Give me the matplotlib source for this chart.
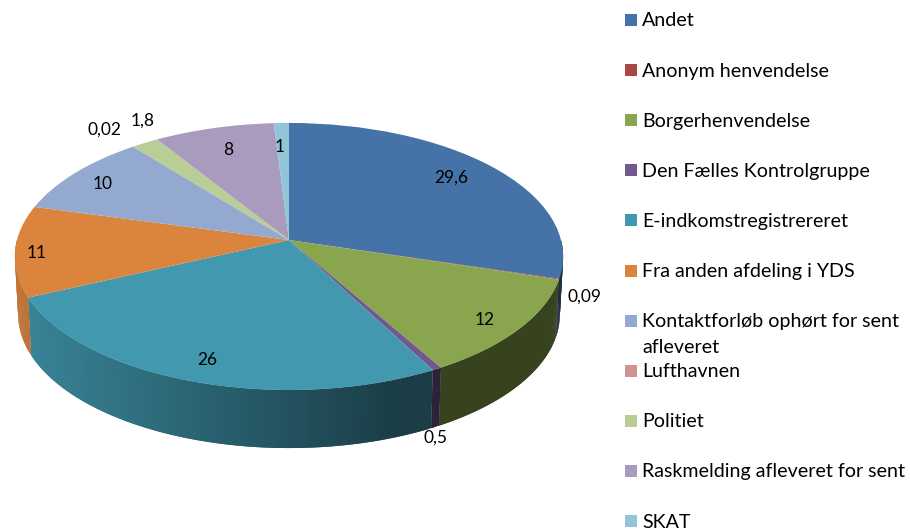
import numpy as np
import matplotlib
matplotlib.use('Agg')
import matplotlib.pyplot as plt
import matplotlib.patches as mpatches
from matplotlib.colors import to_rgb
from matplotlib.transforms import Transform

plt.rcParams['font.family'] = ['Lato', 'DejaVu Sans']

categories = ['Andet', 'Anonym henvendelse', 'Borgerhenvendelse', 'Den Fælles Kontrolgruppe',
              'E-indkomstregistrereret', 'Fra anden afdeling i YDS',
              'Kontaktforløb ophørt for sent\nafleveret', 'Lufthavnen', 'Politiet',
              'Raskmelding afleveret for sent', 'SKAT']
values = [29.6, 0.09, 12, 0.5, 26, 11, 10, 0.02, 1.8, 8, 1]
value_labels = ['29,6', '0,09', '12', '0,5', '26', '11', '10', '0,02', '1,8', '8', '1']
colors = ['#4572A7', '#AA4643', '#89A54E', '#71588F', '#4198AF', '#DB843D',
          '#93A9CF', '#D19392', '#B9CD96', '#A99BBD', '#92C5D8']

# where the data labels sit, in pixels
label_x = [451, 584, 485, 436, 207, 37, 103, 104, 143, 228, 280]
label_y = [178, 297, 320, 438, 360, 253, 184, 130, 121, 150, 147]

# perspective of the top face
cx, cy = 289, 240
k, h, a = 272, 131.5, 0.1236
depth = 58
SIZE = 14.1


class Perspective(Transform):
    input_dims = 2
    output_dims = 2

    def transform_non_affine(self, xy):
        xy = np.asarray(xy, dtype=float)
        f = 1 / (1 + a * xy[:, 1])
        return np.column_stack([cx + k * xy[:, 0] * f, cy - h * xy[:, 1] * f])


def shade(x):
    # side wall gets darker towards the right
    return np.clip(0.88 - 0.48 * (x - 15) / 385, 0.40, 0.88)


fig = plt.figure(figsize=(9.10, 5.31), dpi=100)
ax = fig.add_axes([0, 0, 1, 1])
persp = Perspective()

wedges, _ = ax.pie(values, colors=colors, startangle=90, counterclock=False,
                   wedgeprops={'linewidth': 0})
ax.set_aspect('auto')
ax.set_xlim(0, 910)
ax.set_ylim(531, 0)
ax.axis('off')
for w in wedges:
    w.set_transform(persp + ax.transData)
    w.set_zorder(5)

# side wall, only the front half can be seen
edges = np.concatenate([[0], np.cumsum(values)]) / np.sum(values) * 360
for i in range(len(values)):
    t1, t2 = max(edges[i], 90), min(edges[i + 1], 270)
    if t2 <= t1:
        continue
    n = max(int(t2 - t1), 1) * 2
    th = np.radians(np.linspace(t1, t2, n + 1))
    top = persp.transform(np.column_stack([np.sin(th), np.cos(th)]))
    bot = np.column_stack([cx + (top[:, 0] - cx) * 0.988, top[:, 1] + depth])
    base = np.array(to_rgb(colors[i]))
    for j in range(n):
        # each strip runs on under the next one so no seams show
        e = min(j + 2, n)
        col = base * shade((top[j, 0] + top[j + 1, 0]) / 2)
        ax.fill([top[j, 0], top[e, 0], bot[e, 0], bot[j, 0]],
                [top[j, 1], top[e, 1], bot[e, 1], bot[j, 1]],
                color=col, lw=0, zorder=2)

for lab, x, y in zip(value_labels, label_x, label_y):
    ax.text(x, y, lab, fontsize=12.5, color='black', ha='center', va='center', zorder=6)

# legend
for i, name in enumerate(categories):
    y = 20 + i * 50.1
    ax.add_patch(mpatches.Rectangle((625, y - 6), 12, 12, color=colors[i], lw=0))
    for j, line in enumerate(name.split('\n')):
        ax.text(642, y + 1 + j * 26, line, fontsize=SIZE, color='black', ha='left', va='center')

plt.savefig('out.png', dpi=100)
